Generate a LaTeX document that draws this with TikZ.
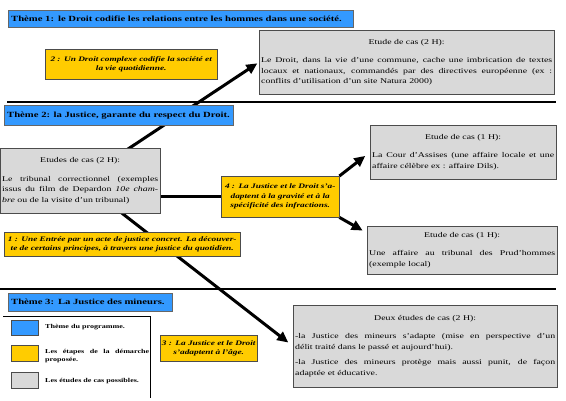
\documentclass[tikz,border=0pt]{standalone}
\usepackage{fontspec}
\setmainfont{Liberation Serif}[FakeStretch=1.35]
\usetikzlibrary{arrows.meta,backgrounds}
\definecolor{bleu}{RGB}{51,153,255}
\definecolor{jaune}{RGB}{255,204,0}
\definecolor{gris}{RGB}{217,217,217}
\tikzstyle{theme} = [rectangle, anchor=north west, draw=black!60, fill=bleu, inner xsep=3pt, inner ysep=1pt, font=\fontsize{7.9}{9}\selectfont\bfseries, align=left]
\tikzstyle{etape} = [rectangle, anchor=north west, draw=black!70, fill=jaune, inner xsep=1pt, inner ysep=1pt, font=\fontsize{6.9}{9.5}\selectfont\bfseries\itshape, align=center]
\tikzstyle{cas} = [rectangle, anchor=north west, draw=black!70, fill=gris, inner xsep=2pt, inner ysep=2pt, font=\fontsize{7.3}{10.5}\selectfont, align=justify]
\tikzstyle{swatch} = [rectangle, anchor=north west, draw=black!70, minimum width=27pt]
\tikzstyle{legende} = [anchor=west, text width=104pt, align=justify, inner sep=0pt, font=\fontsize{6}{7.5}\selectfont\bfseries]
\tikzstyle{sep} = [line width=2pt]
\tikzstyle{link} = [line width=3pt]
\tikzstyle{arrow} = [link, -{Triangle[length=11pt,width=10pt]}]
\newcommand{\titrecas}[1]{{\centering #1\par}\vspace{8pt}}

\begin{document}
\begin{tikzpicture}[x=1pt, y=-1pt]
    \useasboundingbox (0,0) rectangle (566,400);

    % themes
    \node (t1) [theme, text width=339pt, minimum height=17pt] at (8,10) {Thème 1: le Droit codifie les relations entre les hommes dans une société.};
    \node (t2) [theme, minimum height=20pt] at (4,105) {Thème 2: la Justice, garante du respect du Droit.};
    \node (t3) [theme, text width=158pt, minimum height=18pt] at (8,293) {Thème 3: La Justice des mineurs.};

    % etapes
    \node (e2) [etape, text width=170pt, minimum height=30pt] at (45,49) {2 : Un Droit complexe codifie la société et\\la vie quotidienne.};
    \node (e4) [etape, text width=116pt, minimum height=41pt] at (221,176) {4 : La Justice et le Droit s'a-\\daptent à la gravité et à la\\spécificité des infractions.};
    \node (e1) [etape, text width=234pt, minimum height=24pt] at (4,232) {1 : Une Entrée par un acte de justice concret. La découver-\\te de certains principes, à travers une justice du quotidien.};
    \node (e3) [etape, text width=95pt, minimum height=26pt] at (160,335) {3 : La Justice et le Droit\\s'adaptent à l'âge.};

    % etudes de cas
    \node (c1) [cas, text width=291pt, minimum height=64pt] at (259,30) {\titrecas{Etude de cas (2 H):}Le Droit, dans la vie d'une commune, cache une imbrication de textes\linebreak locaux et nationaux, commandés par des directives européenne (ex~:\linebreak conflits d'utilisation d'un site Natura 2000)};
    \node (c2) [cas, text width=156pt, minimum height=65pt] at (0,148) {\titrecas{Etudes de cas (2 H):}Le tribunal correctionnel (exemples\linebreak issus du film de Depardon \textit{10e cham-}\linebreak\textit{bre} ou de la visite d'un tribunal)};
    \node (c3) [cas, text width=182pt, minimum height=54pt] at (370,125) {\titrecas{Etude de cas (1 H):}La Cour d'Assises (une affaire locale et une\linebreak affaire célèbre ex~: affaire Dils).};
    \node (c4) [cas, text width=186pt, minimum height=48pt] at (367,226) {\titrecas{Etude de cas (1 H):}Une affaire au tribunal des Prud'hommes\linebreak (exemple local)};
    \node (c5) [cas, text width=260pt, minimum height=82pt] at (293,305) {\titrecas{Deux études de cas (2 H):}-la Justice des mineurs s'adapte (mise en perspective d'un\linebreak délit traité dans le passé et aujourd'hui).\par\vspace{5pt}-la Justice des mineurs protège mais aussi punit, de façon\linebreak adaptée et éducative.};

    % separations
    \draw[sep] (7,102) -- (556,102);
    \draw[sep] (0,289) -- (556,289);

    % legende
    \draw[thick] (3,316) -- (150,316) -- (150,398);
    \node (l1) [swatch, fill=bleu, minimum height=15pt] at (11,320) {};
    \node (l2) [swatch, fill=jaune, minimum height=16pt] at (11,345) {};
    \node (l3) [swatch, fill=gris, minimum height=16pt] at (11,372) {};
    \node (tl1) [legende] at (45,327) {Thème du programme.};
    \node (tl2) [legende] at (45,356) {Les étapes de la démarche\linebreak proposée.};
    \node (tl3) [legende] at (45,381) {Les études de cas possibles.};

    \begin{pgfonlayer}{background}
        \draw[arrow, shorten >=2pt] (c2.center) -- (c1.west);
        \draw[arrow, shorten >=6pt] (c2.center) -- (c5.west);
        \draw[link] (e4.west) -- (e4.west -| c2.east);
        \draw[arrow, shorten >=6pt] (e4.north east) -- (c3.west);
        \draw[arrow, shorten >=5pt] (e4.south east) -- ([yshift=-7pt]c4.north west);
    \end{pgfonlayer}
\end{tikzpicture}
\end{document}
